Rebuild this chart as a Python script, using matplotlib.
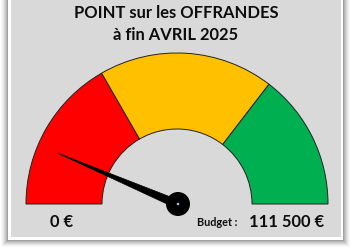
import matplotlib
matplotlib.use("Agg")
import matplotlib.pyplot as plt
from matplotlib.patches import Wedge, Rectangle, Circle, Polygon
import numpy as np

# Gauge data (euros)
budget = 111500
zone_limits = [37200, 79000, 111500]
zone_colors = ["#FF0000", "#FFC000", "#00B050"]
current_value = 14300
title_lines = ["POINT sur les OFFRANDES", "à fin AVRIL 2025"]
min_label = "0 €"
budget_caption = "Budget :"
budget_label = "111 500 €"

W, H = 354, 250
fig = plt.figure(figsize=(W / 100, H / 100), dpi=100)
ax = fig.add_axes([0, 0, 1, 1])
ax.set_xlim(0, W)
ax.set_ylim(0, H)
ax.set_aspect("auto")
ax.axis("off")
fig.patch.set_facecolor("white")

# soft drop shadow around the card
for i, a in enumerate(np.linspace(0.10, 0.02, 7)):
    d = i + 1
    ax.add_patch(Rectangle((8 - d, 10 - d), 335 + 2 * d, 260 + 2 * d,
                           facecolor="#000000", alpha=a, edgecolor="none", zorder=0))
# white border and grey card
ax.add_patch(Rectangle((8, 10), 335, 260, facecolor="white", edgecolor="none", zorder=1))
ax.add_patch(Rectangle((11, 13), 329.5, 260, facecolor="#D9D9D9", edgecolor="none", zorder=2))

font = "Lato"
txt_col = "#0D0D0D"
ax.text(176, 231.7, title_lines[0], ha="center", va="baseline", fontsize=11.9,
        fontweight="bold", family=font, color=txt_col, zorder=5)
ax.text(176, 210, title_lines[1], ha="center", va="baseline", fontsize=11.9,
        fontweight="bold", family=font, color=txt_col, zorder=5)

# gauge zones
cx, cy = 177, 46
r_out, r_in = 151, 75
start = 0
for lim, col in zip(zone_limits, zone_colors):
    t1 = 180 - 180 * lim / budget
    t2 = 180 - 180 * start / budget
    ax.add_patch(Wedge((cx, cy), r_out, t1, t2, width=r_out - r_in,
                       facecolor=col, edgecolor="#222222", linewidth=0.7, zorder=3))
    start = lim

# needle
ang = np.deg2rad(180 - 180 * current_value / budget)
L = 130
tip = (cx + L * np.cos(ang), cy + L * np.sin(ang))
perp = ang + np.pi / 2
hw = 4.2
base1 = (cx + hw * np.cos(perp), cy + hw * np.sin(perp))
base2 = (cx - hw * np.cos(perp), cy - hw * np.sin(perp))
ax.add_patch(Polygon([tip, base1, base2], closed=True, facecolor="black",
                     edgecolor="black", linewidth=0.5, zorder=6))
ax.add_patch(Circle((cx + 1, cy), 12, facecolor="black", edgecolor="none", zorder=7))
ax.add_patch(Circle((cx + 1, cy), 1.3, facecolor="#9DC3E6", edgecolor="none", zorder=8))

ax.text(62, 23.3, min_label, ha="center", va="baseline", fontsize=11.9,
        fontweight="bold", family=font, color=txt_col, zorder=5)
ax.text(197, 24, budget_caption, ha="left", va="baseline", fontsize=7.8,
        fontweight="bold", family=font, color=txt_col, zorder=5)
ax.text(249, 23.3, budget_label, ha="left", va="baseline", fontsize=11.9,
        fontweight="bold", family=font, color=txt_col, zorder=5)

fig.savefig("out.png", dpi=100, facecolor="white")
